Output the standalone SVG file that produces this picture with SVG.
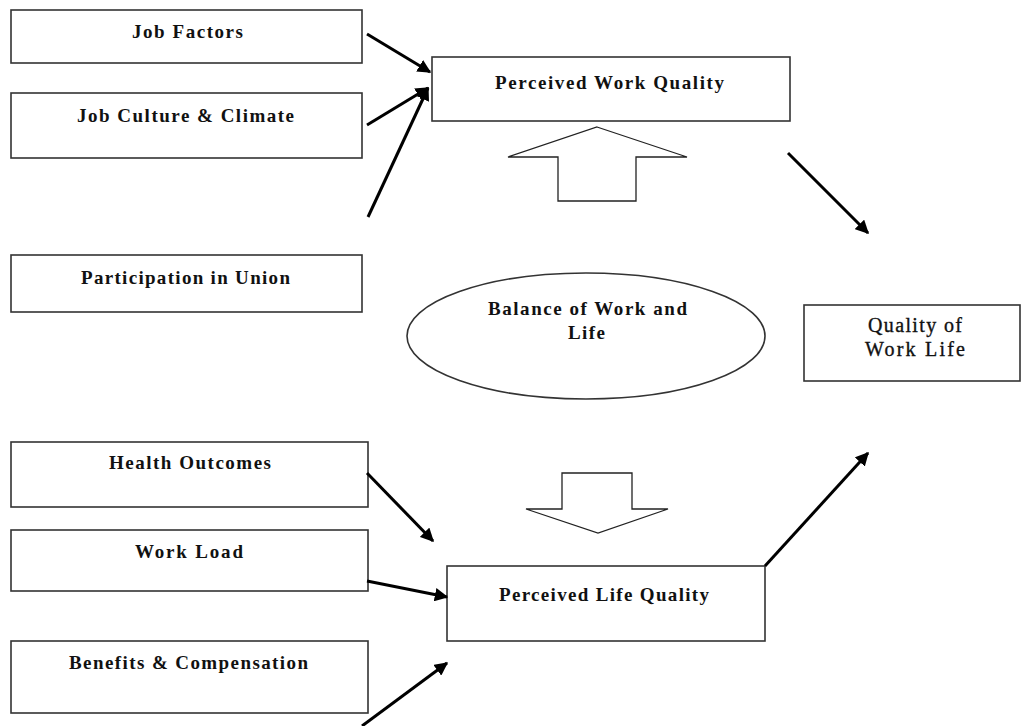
<svg xmlns="http://www.w3.org/2000/svg" width="1021" height="726" viewBox="0 0 1021 726">
<style>
.box{fill:#fff;stroke:#333;stroke-width:1.6}
.lbl{font-family:"Liberation Serif","Times New Roman",serif;font-weight:bold;font-size:19px;fill:#111}
.reg{font-weight:normal;font-size:20px;stroke:#111;stroke-width:0.35}
.conn{stroke:#000;stroke-width:3;fill:none;marker-end:url(#ah)}
.big{fill:#fff;stroke:#222;stroke-width:1.3}
</style>
<defs>
<marker id="ah" viewBox="0 0 10 10" refX="9" refY="5" markerWidth="4.5" markerHeight="4.5" orient="auto" markerUnits="strokeWidth">
<path d="M0,0 L10,5 L0,10 z" fill="#000"/>
</marker>
</defs>
<rect width="1021" height="726" fill="#fff"/>
<g id="job-factors"><rect class="box" x="11" y="10" width="351" height="53"/><text class="lbl" x="132" y="38" textLength="111" lengthAdjust="spacing">Job Factors</text></g>
<g id="job-culture"><rect class="box" x="11" y="93" width="351" height="65"/><text class="lbl" x="77" y="122" textLength="217" lengthAdjust="spacing">Job Culture &amp; Climate</text></g>
<g id="participation"><rect class="box" x="11" y="255" width="351" height="57"/><text class="lbl" x="81" y="284" textLength="209" lengthAdjust="spacing">Participation in Union</text></g>
<g id="health"><rect class="box" x="11" y="442" width="357" height="65"/><text class="lbl" x="109" y="469" textLength="162" lengthAdjust="spacing">Health Outcomes</text></g>
<g id="workload"><rect class="box" x="11" y="530" width="357" height="61"/><text class="lbl" x="135" y="558" textLength="108" lengthAdjust="spacing">Work Load</text></g>
<g id="benefits"><rect class="box" x="11" y="641" width="357" height="72"/><text class="lbl" x="69" y="669" textLength="239" lengthAdjust="spacing">Benefits &amp; Compensation</text></g>
<g id="work-quality"><rect class="box" x="432" y="57" width="358" height="64"/><text class="lbl" x="495" y="89" textLength="229" lengthAdjust="spacing">Perceived Work Quality</text></g>
<g id="life-quality"><rect class="box" x="447" y="566" width="318" height="75"/><text class="lbl" x="499" y="601" textLength="210" lengthAdjust="spacing">Perceived Life Quality</text></g>
<g id="balance"><ellipse class="box" cx="586" cy="336" rx="179" ry="63"/><text class="lbl" x="488" y="315" textLength="199" lengthAdjust="spacing">Balance of Work and</text><text class="lbl" x="568" y="339" textLength="37" lengthAdjust="spacing">Life</text></g>
<g id="qwl"><rect class="box" x="804" y="305" width="216" height="76"/><text class="lbl reg" x="868" y="332" textLength="94" lengthAdjust="spacing">Quality of</text><text class="lbl reg" x="865" y="356" textLength="100" lengthAdjust="spacing">Work Life</text></g>
<g id="up-arrow"><path class="big" d="M597,127 L687,157 L636,157 L636,201 L558,201 L558,157 L508,157 Z"/></g>
<g id="down-arrow"><path class="big" d="M562,473 L632,473 L632,509 L668,509 L598,533 L526,509 L562,509 Z"/></g>
<g id="connectors">
<line class="conn" x1="367" y1="34" x2="430" y2="72"/>
<line class="conn" x1="367" y1="125" x2="428" y2="88"/>
<line class="conn" x1="368" y1="217" x2="428" y2="88"/>
<line class="conn" x1="788" y1="153" x2="868" y2="233"/>
<line class="conn" x1="367" y1="473" x2="433" y2="541"/>
<line class="conn" x1="367" y1="581" x2="447" y2="597"/>
<line class="conn" x1="362" y1="726" x2="447" y2="663"/>
<line class="conn" x1="765" y1="566" x2="868" y2="453"/>
</g>
</svg>
